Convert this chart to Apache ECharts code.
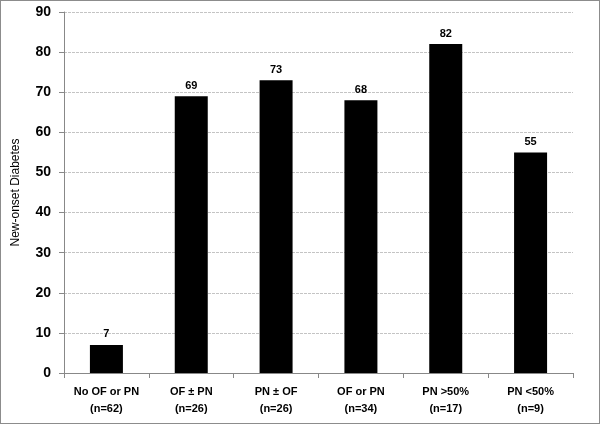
<!DOCTYPE html>
<html>
<head>
<meta charset="utf-8">
<script src="https://cdn.jsdelivr.net/npm/echarts@6/dist/echarts.min.js"></script>
<style>
  html, body { margin: 0; padding: 0; background: #fff; }
  #chart { width: 600px; height: 424px; box-sizing: border-box; border: 1px solid #8c8c8c; }
</style>
</head>
<body>
<div id="chart"></div>
<script>
// groups and percentages
var categories = ['No OF or PN\n(n=62)', 'OF \u00b1 PN\n(n=26)', 'PN \u00b1 OF\n(n=26)', 'OF or PN\n(n=34)', 'PN >50%\n(n=17)', 'PN <50%\n(n=9)'];
var diabetes = [7, 69, 73, 68, 82, 55];
var yTicks = { min: 0, max: 90, interval: 10 };

var myChart = echarts.init(document.getElementById('chart'));

var option = {
    animation: false,
    textStyle: { fontFamily: 'Liberation Sans, Arial, sans-serif' },
    grid: { left: 63, right: 26, top: 11, bottom: 50 },
    xAxis: {
        type: 'category',
        data: categories,
        axisLine: { lineStyle: { color: '#888', width: 1 } },
        axisTick: { show: true, alignWithLabel: false, length: 5, lineStyle: { color: '#888' } },
        axisLabel: {
            interval: 0,
            color: '#000',
            fontWeight: 'bold',
            fontSize: 11,
            lineHeight: 17,
            margin: 10
        }
    },
    yAxis: {
        type: 'value',
        min: yTicks.min,
        max: yTicks.max,
        interval: yTicks.interval,
        name: 'New-onset Diabetes',
        nameLocation: 'middle',
        nameGap: 42,
        nameTextStyle: { color: '#000', fontSize: 12 },
        axisLine: { show: true, lineStyle: { color: '#888' } },
        axisTick: { show: true, length: 5, lineStyle: { color: '#888' } },
        axisLabel: { color: '#000', fontWeight: 'bold', fontSize: 14, margin: 13 },
        splitLine: { lineStyle: { color: '#c4c4c4', type: [3, 1] } }
    },
    series: [
        {
            name: 'New-onset Diabetes',
            type: 'bar',
            data: diabetes,
            barWidth: 33,
            itemStyle: { color: '#000' },
            label: {
                show: true,
                position: 'top',
                distance: 5,
                color: '#000',
                fontWeight: 'bold',
                fontSize: 11
            }
        }
    ]
};

myChart.setOption(option);
</script>
</body>
</html>
